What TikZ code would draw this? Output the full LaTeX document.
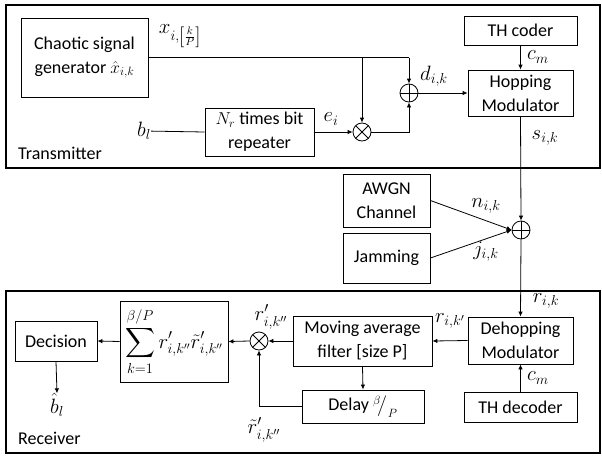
\documentclass[tikz,border=0pt]{standalone}
\usepackage{amsmath}
\usepackage{fontspec}
\setmainfont{Carlito}
\usetikzlibrary{arrows.meta, positioning}

\tikzset{
  blk/.style={draw, thick, align=center, inner sep=0pt, font=\fontsize{18}{24}\selectfont},
  frame/.style={draw, line width=1.2pt},
  mix/.style={draw, thick, circle, minimum size=18pt, inner sep=0pt},
  oplusnode/.style={mix, path picture={\draw[thick] (path picture bounding box.north) -- (path picture bounding box.south)
      (path picture bounding box.west) -- (path picture bounding box.east);}},
  otimesnode/.style={mix, path picture={\draw[thick] (path picture bounding box.north west) -- (path picture bounding box.south east)
      (path picture bounding box.north east) -- (path picture bounding box.south west);}},
  sig/.style={thick},
  arr/.style={thick, -{Latex[length=5pt,width=4.5pt]}},
  lbl/.style={inner sep=1pt, font=\fontsize{18}{20}\selectfont},
  mlbl/.style={inner sep=0pt, font=\fontsize{21}{22}\selectfont}
}

\begin{document}
\begin{tikzpicture}[x=1pt, y=-1pt]
\useasboundingbox (0,0) rectangle (602,455);

% Transmitter and receiver frames.
\draw[frame] (6,5) rectangle (600,168);
\draw[frame] (6,291) rectangle (600,453);
\node[lbl, anchor=west] (txname) at (17,153) {Transmitter};
\node[lbl, anchor=west] (rxname) at (17,438) {Receiver};

% Transmitter blocks.
\node[blk, minimum width=127, minimum height=79] (chaos) at (84.5,57.5) {Chaotic signal\\generator $\hat{x}_{i,k}$};
\node[blk, minimum width=109, minimum height=48] (rep) at (259.5,132) {$N_r$ times bit\\repeater};
\node[otimesnode] (mx) at (362,132) {};
\node[oplusnode] (op) at (409,93) {};
\node[blk, minimum width=105, minimum height=46] (hop) at (520.5,93) {Hopping\\Modulator};
\node[blk, minimum width=113, minimum height=29] (thc) at (520.5,30.5) {TH coder};
\node[mlbl] (bl) at (144,131) {$b_l$};

% Channel.
\node[blk, minimum width=87, minimum height=53] (awgn) at (386.5,200.5) {AWGN\\Channel};
\node[blk, minimum width=87, minimum height=50] (jam) at (386.5,258) {Jamming};
\node[oplusnode] (och) at (521,230) {};

% Receiver blocks.
\node[blk, minimum width=105, minimum height=47] (dehop) at (520.5,340.5) {Dehopping\\Modulator};
\node[blk, minimum width=113, minimum height=30] (thd) at (520.5,407) {TH decoder};
\node[blk, minimum width=139, minimum height=50] (mavg) at (362.5,341) {Moving average\\filter [size P]};
\node[blk, minimum width=122, minimum height=33] (delay) at (363,406.5) {Delay ${}^{\beta}\!\big/_{P}$};
\node[otimesnode] (mr) at (259,341) {};
\node[blk, minimum width=108, minimum height=81, font=\fontsize{20}{22}\selectfont] (sum) at (174,341.5)
  {$\displaystyle\sum_{k=1}^{\beta/P} r'_{i,k''}\tilde{r}'_{i,k''}$};
\node[blk, minimum width=82, minimum height=40] (dec) at (56,341) {Decision};
\node[mlbl] (bhat) at (57,405) {$\hat{b}_l$};

% Transmitter connections.
\coordinate (br) at (mx.north |- chaos.east);
\coordinate (tc) at (op.north |- chaos.east);
\draw[sig] (chaos.east) -- (tc);
\draw[arr] (tc) -- (op.north);
\draw[arr] (br) -- (mx.north);
\draw[sig] (bl) -- (rep.west);
\draw[arr] (rep.east) -- (mx.west);
\draw[arr] (mx.east) -| (op.south);
\draw[arr] (op.east) -- (hop.west);
\draw[arr] (thc.south) -- (hop.north);
\draw[arr] (hop.south) -- (och.north);

% Channel connections.
\draw[arr] (awgn.east) -- (och.west);
\draw[arr] (jam.east) -- (och.west);

% Receiver connections.
\draw[arr] (och.south) -- (dehop.north);
\draw[arr] (thd.north) -- (dehop.south);
\draw[arr] (dehop.west) -- (mavg.east);
\draw[arr] (mavg.south) -- (delay.north);
\draw[arr] (mavg.west) -- (mr.east);
\draw[arr] (delay.west) -| (mr.south);
\draw[arr] (mr.west) -- (sum.east);
\draw[arr] (sum.west) -- (dec.east);
\draw[arr] (dec.south) -- (bhat.north);

% Signal labels.
\node[mlbl] (xlab) at (180,36) {$x_{i,\left[\frac{k}{P}\right]}$};
\node[mlbl] (elab) at (331,119) {$e_i$};
\node[mlbl] (dlab) at (434,76) {$d_{i,k}$};
\node[mlbl] (cmt) at (538,57) {$c_m$};
\node[mlbl] (slab) at (545,138) {$s_{i,k}$};
\node[mlbl] (nlab) at (486,206) {$n_{i,k}$};
\node[mlbl] (jlab) at (486,252) {$j_{i,k}$};
\node[mlbl] (rlab) at (546,301) {$r_{i,k}$};
\node[mlbl] (rplab) at (450,321) {$r_{i,k'}$};
\node[mlbl] (cmr) at (538,378) {$c_m$};
\node[mlbl] (rmlab) at (271,317) {$r'_{i,k''}$};
\node[mlbl] (rtlab) at (264,430) {$\tilde{r}'_{i,k''}$};
\end{tikzpicture}
\end{document}
